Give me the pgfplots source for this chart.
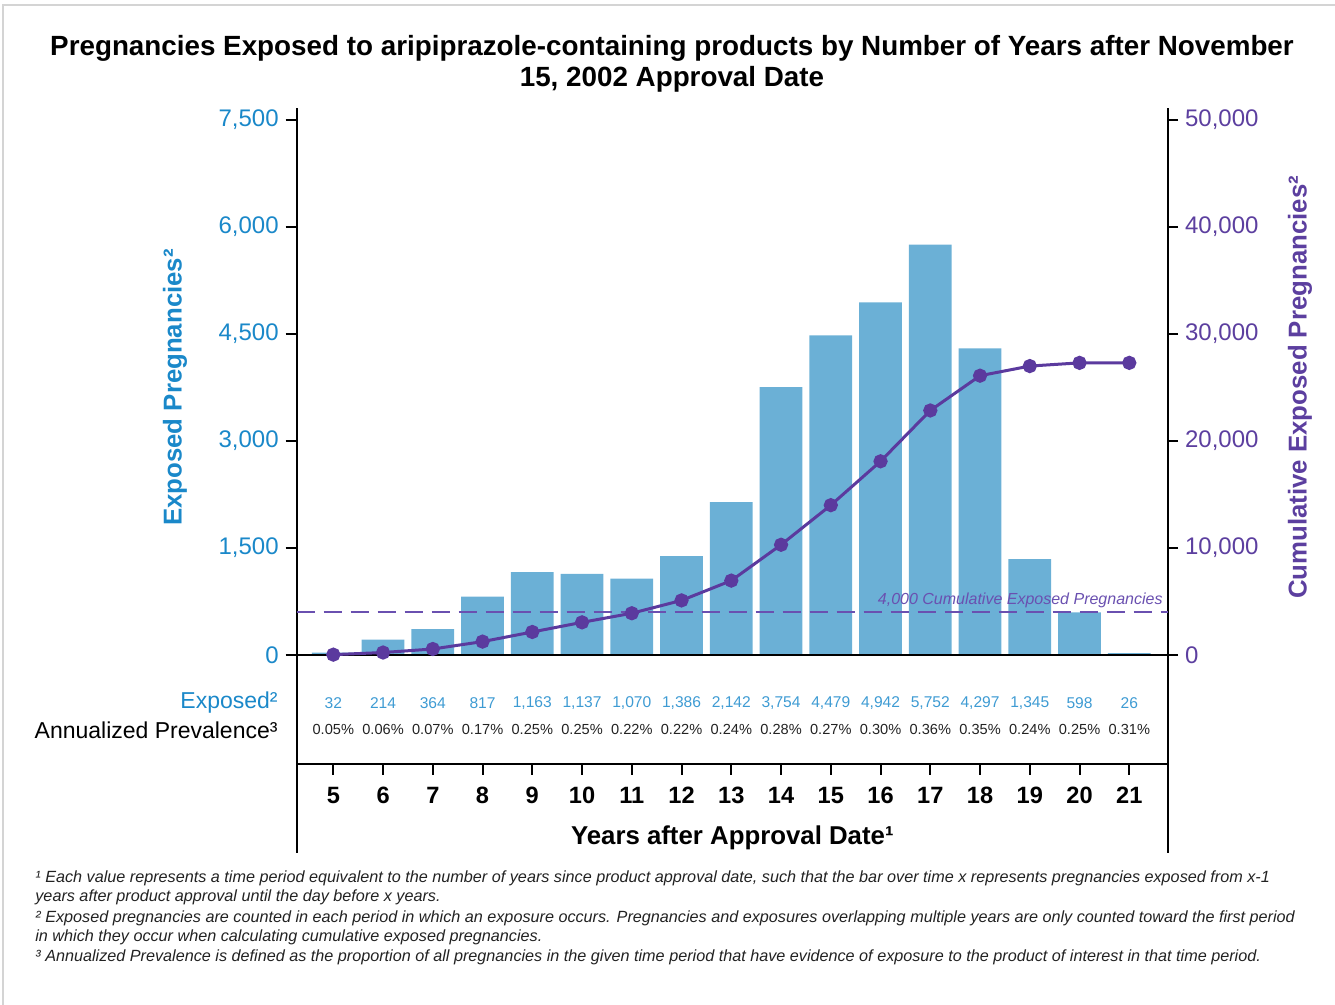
\documentclass[border=0pt]{standalone}
\usepackage{fontspec}
\setmainfont{Liberation Sans}
\usepackage{pgfplots}
\usepackage{pgfplotstable}
\pgfplotsset{compat=1.18}

\definecolor{barblue}{HTML}{6BB0D6}
\definecolor{axisblue}{HTML}{1A88C9}
\definecolor{numblue}{HTML}{3E9BD3}
\definecolor{axpurple}{HTML}{5C3F9F}
\definecolor{linepurple}{HTML}{5B3A9E}
\definecolor{dashpurple}{HTML}{6A50B0}
\definecolor{framegray}{HTML}{D4D4D4}
\definecolor{notegray}{HTML}{222222}

% year, exposed pregnancies, annualized prevalence (%), cumulative exposed
\pgfplotstableread{
year exp  prev cum
5    32   0.05 32
6    214  0.06 230
7    364  0.07 560
8    817  0.17 1250
9    1163 0.25 2150
10   1137 0.25 3050
11   1070 0.22 3900
12   1386 0.22 5100
13   2142 0.24 6950
14   3754 0.28 10300
15   4479 0.27 14000
16   4942 0.30 18100
17   5752 0.36 22850
18   4297 0.35 26100
19   1345 0.24 27000
20   598  0.25 27300
21   26   0.31 27300
}\datatable

\pgfplotsset{
  /pgf/number format/1000 sep={,},
  /pgf/number format/assume math mode=true,
}

\begin{document}
\begin{tikzpicture}
\useasboundingbox (0,0) rectangle (667.5pt,502.5pt);
\draw[framegray, line width=1pt] (1.5pt,0) -- (1.5pt,500pt) -- (667.5pt,500pt);

\node[align=center, font=\bfseries\fontsize{13.9}{15.5}\selectfont] at (336pt,470.75pt)
  {Pregnancies Exposed to aripiprazole-containing products by Number of Years after November\\15, 2002 Approval Date};

\begin{axis}[
  at={(148.35pt,120.5pt)}, anchor=south west,
  scale only axis, width=435.65pt, height=328pt,
  xmin=4.264, xmax=21.778, ymin=-1528, ymax=7668,
  axis y line*=left, axis x line*=bottom,
  axis line style={-, line width=1pt, black},
  xtick={5,...,21}, ytick={0,1500,...,7500},
  tick align=outside, major tick length=5.5pt,
  every tick/.style={black, line width=1pt},
  yticklabel style={text=axisblue, font=\fontsize{12}{14}\selectfont},
  xticklabel style={yshift=-2.5pt, font=\bfseries\fontsize{11.8}{14}\selectfont},
  ylabel={Exposed Pregnancies²},
  ylabel style={at={(rel axis cs:-0.1397,0.574)}, anchor=center, text=axisblue,
    font=\bfseries\fontsize{12.9}{14}\selectfont},
  xlabel={Years after Approval Date¹},
  xlabel style={at={(rel axis cs:0.5,-0.1128)}, anchor=center,
    font=\bfseries\fontsize{12.9}{14}\selectfont},
  clip=false,
]
\addplot[ybar, bar width=0.86, fill=barblue, draw=none] table[x=year, y=exp] {\datatable};
\draw[line width=1pt] (axis cs:4.264,0) -- (axis cs:21.778,0);
\draw[line width=1pt] (rel axis cs:0,0) -- ([yshift=-44.5pt]rel axis cs:0,0);
\draw[line width=1pt] (rel axis cs:1,0) -- ([yshift=-44.5pt]rel axis cs:1,0);

\addplot[draw=none, mark=none, nodes near coords, point meta=explicit,
  nodes near coords style={anchor=center, text=numblue, font=\fontsize{7.8}{9}\selectfont}]
  table[x=year, y expr=-673, meta=exp] {\datatable};
\addplot[draw=none, mark=none, point meta=explicit,
  nodes near coords={\pgfmathprintnumber[fixed,fixed zerofill,precision=2]{\pgfplotspointmeta}\%},
  nodes near coords style={anchor=center, text=notegray, font=\fontsize{7.3}{9}\selectfont}]
  table[x=year, y expr=-1051, meta=prev] {\datatable};

\node[anchor=east, inner sep=0pt, text=axisblue, font=\fontsize{11.5}{14}\selectfont]
  at (axis cs:3.888,-673) {Exposed²};
\node[anchor=east, inner sep=0pt, font=\fontsize{11.5}{14}\selectfont]
  at (axis cs:3.888,-1051) {Annualized Prevalence³};
\end{axis}

\begin{axis}[
  at={(148.35pt,120.5pt)}, anchor=south west,
  scale only axis, width=435.65pt, height=328pt,
  xmin=4.264, xmax=21.778, ymin=-10187, ymax=51120,
  axis y line*=right, axis x line=none,
  axis line style={-, line width=1pt, black},
  ytick={0,10000,...,50000}, scaled y ticks=false,
  tick align=outside, major tick length=5pt,
  every tick/.style={black, line width=1pt},
  yticklabel style={text=axpurple, font=\fontsize{12}{14}\selectfont},
  ylabel={Cumulative Exposed Pregnancies²},
  ylabel style={at={(rel axis cs:1.1515,0.574)}, anchor=center, text=axpurple,
    font=\bfseries\fontsize{12.9}{14}\selectfont},
  clip=false,
]
\addplot[dashpurple, line width=1pt, dash pattern=on 9pt off 4.5pt]
  coordinates {(4.264,4000) (21.778,4000)};
\node[anchor=base east, inner sep=0pt, yshift=4pt, text=dashpurple,
  font=\itshape\fontsize{8}{9}\selectfont] at (axis cs:21.677,4000)
  {4,000 Cumulative Exposed Pregnancies};
\addplot[linepurple, line width=1.5pt, mark=*, mark size=2.8pt,
  mark options={fill=linepurple, draw=linepurple}]
  table[x=year, y=cum] {\datatable};
\end{axis}

\begin{scope}[every node/.style={anchor=base west, inner sep=0pt, text=notegray,
    font=\itshape\fontsize{8.1}{9}\selectfont}]
\node at (17.5pt,61pt) {¹ Each value represents a time period equivalent to the number of years since product approval date, such that the bar over time x represents pregnancies exposed from x-1};
\node at (17.5pt,51.5pt) {years after product approval until the day before x years.};
\node at (17.5pt,41pt) {² Exposed pregnancies are counted in each period in which an exposure occurs. Pregnancies and exposures overlapping multiple years are only counted toward the first period};
\node at (17.5pt,31.5pt) {in which they occur when calculating cumulative exposed pregnancies.};
\node at (17.5pt,21.5pt) {³ Annualized Prevalence is defined as the proportion of all pregnancies in the given time period that have evidence of exposure to the product of interest in that time period.};
\end{scope}
\end{tikzpicture}
\end{document}
